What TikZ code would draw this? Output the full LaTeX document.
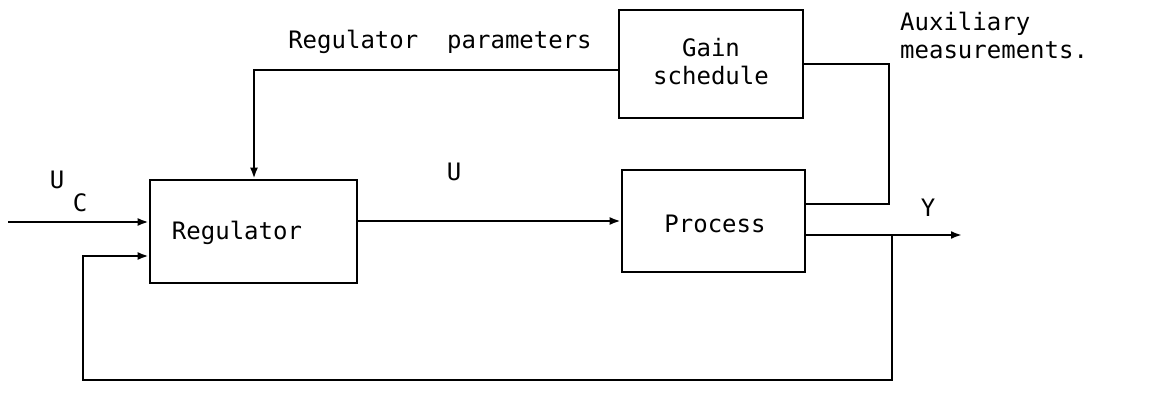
\documentclass[tikz,border=0pt]{standalone}
\usepackage{fontspec}
\setmonofont{DejaVu Sans Mono}
\usetikzlibrary{arrows.meta,calc}
\begin{document}
\begin{tikzpicture}[x=1pt,y=-1pt,
  box/.style={draw,line width=2.6pt,inner sep=0pt},
  lbl/.style={font=\ttfamily\fontsize{24}{28}\selectfont,inner sep=0pt,align=center},
  wire/.style={line width=2.4pt},
  arr/.style={wire,-{Latex[length=11pt,width=8pt]}}]
\useasboundingbox (0,0) rectangle (1160,393);
\node[box,minimum width=207pt,minimum height=103pt] (reg) at (253.5,231.5) {};
\node[box,minimum width=183pt,minimum height=102pt] (proc) at (713.5,221) {};
\node[box,minimum width=184pt,minimum height=108pt] (gain) at (711,64) {};
\node[lbl] (regt) at (237,233) {Regulator};
\node[lbl] (proct) at (715,224) {Process};
\node[lbl] (gaint) at (711,62) {Gain\\schedule};
\node[lbl] (part) at (440,42) {Regulator\ \ parameters};
\node[lbl,anchor=west,align=left] (auxt) at (900,35) {Auxiliary\\measurements.};
\node[lbl] (ut) at (454,172) {U};
\node[lbl] (yt) at (928,208) {Y};
\node[lbl] (uct) at (57,180) {U};
\node[lbl] (uct2) at (80,203) {C};
\coordinate (uc) at (8,222);
\coordinate (yout) at (962,235);
\coordinate (tap) at (892,235);
\coordinate (fbl) at (83,380);
\coordinate (fbin) at (83,256);
\coordinate (auxy) at (889,204);
\coordinate (parx) at (254,70);
\draw[arr] (uc) -- (uc -| reg.west);
\draw[arr] (reg.east |- proc.west) -- (proc.west);
\draw[arr] (proc.east |- yout) -- (yout);
\draw[arr] (tap) |- (fbl) -- (fbin) -- (fbin -| reg.west);
\draw[wire] (proc.east |- auxy) -- (auxy) |- (gain.east);
\draw[arr] (gain.west |- parx) -- (parx) -- (parx |- reg.north);
\end{tikzpicture}
\end{document}
